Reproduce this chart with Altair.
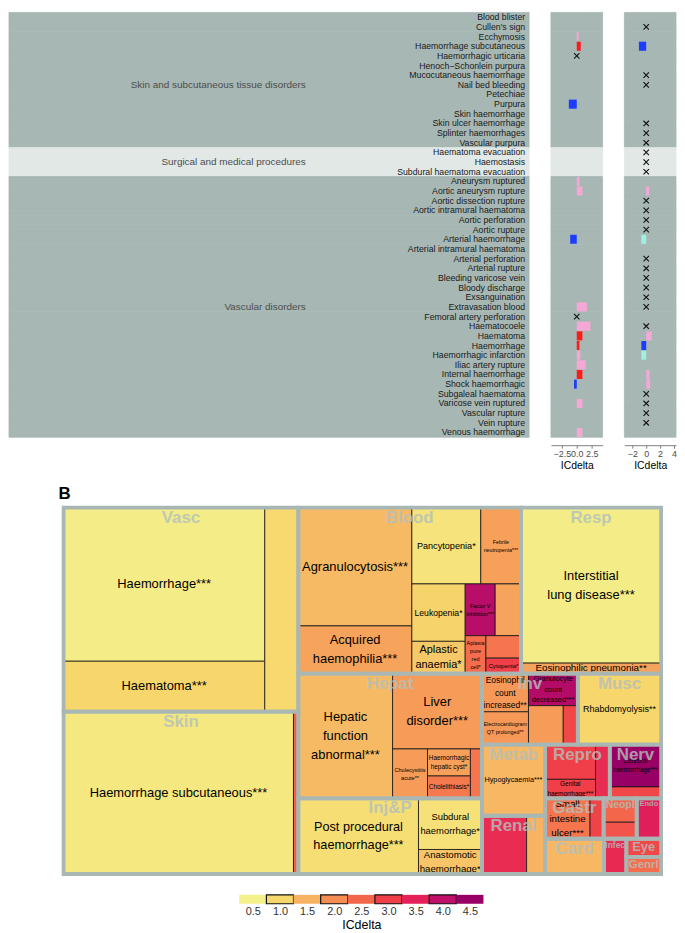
import altair as alt
import pandas as pd

FONT = "Liberation Sans"

# ===================== Panel A data =====================
soc_names = ["Skin and subcutaneous tissue disorders",
             "Surgical and medical procedures",
             "Vascular disorders"]
skin_pts = ["Blood blister", "Cullen's sign", "Ecchymosis", "Haemorrhage subcutaneous",
            "Haemorrhagic urticaria", "Henoch\u2212Schonlein purpura", "Mucocutaneous haemorrhage",
            "Nail bed bleeding", "Petechiae", "Purpura", "Skin haemorrhage",
            "Skin ulcer haemorrhage", "Splinter haemorrhages", "Vascular purpura"]
surg_pts = ["Haematoma evacuation", "Haemostasis", "Subdural haematoma evacuation"]
vasc_pts = ["Aneurysm ruptured", "Aortic aneurysm rupture", "Aortic dissection rupture",
            "Aortic intramural haematoma", "Aortic perforation", "Aortic rupture",
            "Arterial haemorrhage", "Arterial intramural haematoma", "Arterial perforation",
            "Arterial rupture", "Bleeding varicose vein", "Bloody discharge", "Exsanguination",
            "Extravasation blood", "Femoral artery perforation", "Haematocoele", "Haematoma",
            "Haemorrhage", "Haemorrhagic infarction", "Iliac artery rupture",
            "Internal haemorrhage", "Shock haemorrhagic", "Subgaleal haematoma",
            "Varicose vein ruptured", "Vascular rupture", "Vein rupture", "Venous haemorrhage"]

# left ICdelta panel
ic1_pts = ["Ecchymosis", "Haemorrhage subcutaneous", "Purpura", "Aneurysm ruptured",
           "Aortic aneurysm rupture", "Arterial haemorrhage", "Extravasation blood",
           "Haematocoele", "Haematoma", "Haemorrhage", "Haemorrhagic infarction",
           "Iliac artery rupture", "Internal haemorrhage", "Shock haemorrhagic",
           "Varicose vein ruptured", "Venous haemorrhage"]
ic1_vals = [0.33, 0.67, -1.33, 0.45, 0.95, -1.1, 1.7, 2.3, 0.95, 0.45, 0.6, 1.5, 0.95, -0.45, 0.95, 0.95]
ic1_class = ["up", "up_sig", "down_sig", "up", "up", "down_sig", "up", "up", "up_sig", "up_sig",
             "up", "up", "up_sig", "down_sig", "up", "up"]
ic1_absent = ["Haemorrhagic urticaria", "Femoral artery perforation"]

# right ICdelta panel
ic2_pts = ["Haemorrhage subcutaneous", "Aortic aneurysm rupture", "Arterial haemorrhage",
           "Haematoma", "Haemorrhage", "Haemorrhagic infarction", "Internal haemorrhage",
           "Shock haemorrhagic"]
ic2_vals = [-1.05, 0.43, -0.7, 0.8, -0.7, -0.7, 0.48, 0.57]
ic2_class = ["down_sig", "up", "down", "up", "down_sig", "down", "up", "up"]
ic2_absent = ["Cullen's sign", "Mucocutaneous haemorrhage", "Nail bed bleeding",
              "Skin ulcer haemorrhage", "Splinter haemorrhages", "Vascular purpura",
              "Haematoma evacuation", "Haemostasis", "Subdural haematoma evacuation",
              "Aortic dissection rupture", "Aortic intramural haematoma", "Aortic perforation",
              "Aortic rupture", "Arterial perforation", "Arterial rupture", "Bleeding varicose vein",
              "Bloody discharge", "Exsanguination", "Extravasation blood", "Haematocoele",
              "Subgaleal haematoma", "Varicose vein ruptured", "Vascular rupture", "Vein rupture"]

# ===================== Panel B data (treemap) =====================
cell_labels = ["Haemorrhage***", "Haematoma***", "",
               "Haemorrhage subcutaneous***", "",
               "Agranulocytosis***", "Acquired\nhaemophilia***", "Pancytopenia*",
               "Febrile\nneutropenia***", "Leukopenia*", "Aplastic\nanaemia*",
               "Factor V\ninhibition***", "", "Aplasia\npure\nred\ncell*", "", "Cytopenia*",
               "Interstitial\nlung disease***", "Eosinophilic pneumonia**",
               "Hepatic\nfunction\nabnormal***", "Liver\ndisorder***", "Cholecystitis\nacute**",
               "Haemorrhagic\nhepatic cyst*", "Cholelithiasis*", "",
               "Post procedural\nhaemorrhage***", "Subdural\nhaemorrhage*", "Anastomotic\nhaemorrhage*",
               "Eosinophil\ncount\nincreased**", "Electrocardiogram\nQT prolonged**",
               "Granulocyte\ncount\ndecreased***", "", "",
               "Rhabdomyolysis**", "Hypoglycaemia***", "", "",
               "", "Genital\nhaemorrhage***", "",
               "Cerebral\nhaemorrhage***", "",
               "Small\nintestine\nulcer***", "", "", "", "", "", "", "", ""]
cell_sizes = [1411, 464, 313,
              1705, 36,
              613, 248, 240, 140, 140, 79, 71, 61, 36, 36, 25,
              995, 68,
              537, 307, 79, 53, 44, 26,
              415, 148, 71,
              81, 70, 72, 62, 26,
              270, 205, 119, 49,
              80, 44, 35,
              99, 27,
              83, 25, 36, 25, 45, 95, 36, 29, 27]
cell_icdelta = [0.55, 1.0, 0.95,
                0.65, 2.6,
                1.4, 1.7, 0.75, 1.75, 1.05, 1.2, 4.1, 1.7, 2.4, 2.3, 3.0,
                0.55, 1.7,
                1.4, 1.8, 1.8, 1.75, 2.25, 2.3,
                0.85, 0.8, 1.25,
                1.85, 1.85, 4.15, 1.8, 2.9,
                1.0, 1.45, 3.3, 1.5,
                3.0, 3.0, 3.3,
                4.5, 2.9,
                2.3, 2.95, 2.5, 2.75, 3.55, 1.45, 3.35, 2.9, 2.4]
group_names = ["Vasc", "Skin", "Blood", "Resp", "Hepat", "Inj&P", "Inv", "Musc", "Metab",
               "Renal", "Repro", "Nerv", "Gastr", "Neopl", "Endo", "Card", "Infec", "Eye", "Genrl"]
legend_values = [0.5, 1.0, 1.5, 2.0, 2.5, 3.0, 3.5, 4.0, 4.5]

# ===================== styles =====================
cls_domain = ["band_dark", "band_light", "up", "up_sig", "down", "down_sig"]
cls_range = ["#A7B7B3", "#E1E8E6", "#F5A8D6", "#FF1A1A", "#A0F0E2", "#1E3CFF"]
heat_colors = ["#F4F08A", "#F7D66C", "#F7B362", "#F58C52", "#F4664C", "#F03F48",
               "#E42158", "#C0106A", "#990066"]
label_font_size = [13, 13, 0, 13, 0, 13, 13, 9.2, 5.4, 8.7, 11, 5.5, 0, 5.5, 0, 6.2,
                   13, 9.9, 13, 13, 5.6, 6.5, 6.5, 0, 12.8, 9.5, 9.7, 8.5, 5.4, 7.4, 0, 0,
                   9.1, 7.3, 0, 0, 0, 6.5, 0, 6.4, 0, 9.8, 0, 0, 0, 0, 0, 0, 0, 0]
group_label_size = {"Neopl": 10.5, "Endo": 7.5, "Infec": 8.5, "Eye": 13, "Genrl": 11.5}
LINE_H = 1.46
XSHAPE = "M-1,-1L1,1M-1,1L1,-1"

# ===================== Panel A chart =====================
pt_all, soc_all, shade_all = [], [], []
for i, (soc, pts) in enumerate(zip(soc_names, [skin_pts, surg_pts, vasc_pts])):
    for p in pts:
        pt_all.append(p)
        soc_all.append(soc)
        shade_all.append("band_dark" if i % 2 == 0 else "band_light")
rows = pd.DataFrame({"pt": pt_all, "soc": soc_all, "shade": shade_all})
soc_lab = pd.DataFrame({"soc": soc_names,
                        "pt": [p[len(p) // 2] for p in [skin_pts, surg_pts, vasc_pts]]})

LW, PW, H = 524, 52, 428
CLS = alt.Scale(domain=cls_domain, range=cls_range)
Y = alt.Y("pt:N", scale=alt.Scale(domain=pt_all, paddingInner=0, paddingOuter=0), axis=None)


def band_bg(w):
    return alt.Chart(rows).mark_rect(strokeWidth=0.8).encode(
        y=Y, x=alt.value(0), x2=alt.value(w),
        color=alt.Color("shade:N", scale=CLS, legend=None),
        stroke=alt.Stroke("shade:N", scale=CLS, legend=None))


label_panel = alt.layer(
    band_bg(LW),
    alt.Chart(rows).mark_text(align="right", baseline="middle", fontSize=8.8, color="#1A1A1A")
    .encode(y=Y, x=alt.value(LW - 4), text="pt:N"),
    alt.Chart(soc_lab).mark_text(align="right", baseline="middle", fontSize=10, color="#4D4D4D")
    .encode(y=Y, x=alt.value(299), text="soc:N"),
).properties(width=LW, height=H)


def ic_panel(pts, vals, cls, absent, dom, ticks, fmt):
    d = pd.DataFrame({"pt": pts, "val": vals, "cls": cls})
    a = pd.DataFrame({"pt": absent, "val": [0.0] * len(absent)})
    X = alt.X("val:Q", scale=alt.Scale(domain=dom, nice=False, zero=False),
              axis=alt.Axis(values=ticks, format=fmt, title="ICdelta", offset=8, grid=False,
                            domainColor="#7F7F7F", tickColor="#7F7F7F", tickSize=3,
                            labelColor="#4D4D4D", labelFontSize=9, labelPadding=1,
                            labelOverlap=False, labelFlush=False, labelBound=False,
                            titleFontSize=10.5, titleFontWeight="normal", titleColor="#000",
                            titlePadding=2))
    bars = alt.Chart(d).transform_calculate(base="0").mark_bar(
        height=alt.RelativeBandSize(band=0.94)).encode(
        y=Y, x=X, x2="base:Q", color=alt.Color("cls:N", scale=CLS, legend=None))
    crosses = alt.Chart(a).mark_point(shape=XSHAPE, filled=False, size=30, strokeWidth=1.1,
                                      color="#111111", opacity=1).encode(y=Y, x=X)
    return alt.layer(band_bg(PW), bars, crosses).properties(width=PW, height=H)


p1 = ic_panel(ic1_pts, ic1_vals, ic1_class, ic1_absent, [-4.33, 4.33], [-2.5, 0, 2.5], ".1f")
p2 = ic_panel(ic2_pts, ic2_vals, ic2_class, ic2_absent, [-3.14, 4.29], [-2, 0, 2, 4], "d")
top = alt.hconcat(label_panel, p1, p2, spacing=20)


# ===================== Panel B treemap layout =====================
def G(name, sub):
    return ("g", name, sub)


def Hs(*k):
    return ("h", list(k))


def Vs(*k):
    return ("v", list(k))


vasc = G("Vasc", Hs(Vs(0, 1), 2))
skin = G("Skin", Hs(3, 4))
blood = G("Blood", Hs(Vs(5, 6), Vs(Hs(7, 8), Hs(Vs(9, 10), Vs(Hs(11, 12), Hs(13, Vs(14, 15)))))))
resp = G("Resp", Vs(16, 17))
hepat = G("Hepat", Hs(18, Vs(19, Hs(20, Vs(21, 22), 23))))
injp = G("Inj&P", Hs(24, Vs(25, 26)))
inv = G("Inv", Hs(Vs(27, 28), Vs(29, Hs(30, 31))))
musc = G("Musc", 32)
metab = G("Metab", 33)
renal = G("Renal", Hs(34, 35))
repro = G("Repro", Hs(Vs(36, 37), 38))
nerv = G("Nerv", Vs(39, 40))
gastr = G("Gastr", Hs(41, 42))
neopl = G("Neopl", Vs(43, 44))
endo = G("Endo", 45)
card = G("Card", 46)
infec = G("Infec", 47)
eye = G("Eye", 48)
genrl = G("Genrl", 49)
tree_spec = Hs(Vs(vasc, skin),
               Vs(Hs(blood, resp),
                  Hs(Vs(hepat, injp),
                     Vs(Hs(inv, musc),
                        Hs(Vs(metab, renal),
                           Vs(Hs(repro, nerv),
                              Vs(Hs(gastr, neopl, endo),
                                 Hs(card, infec, Vs(eye, genrl)))))))))


def total(node):
    if isinstance(node, int):
        return cell_sizes[node]
    if node[0] == "g":
        return total(node[2])
    return sum(total(k) for k in node[1])


cell_box = {}
group_box = []


def layout(node, x0, y0, x1, y1):
    if isinstance(node, int):
        cell_box[node] = (x0, x1, y0, y1)
        return
    if node[0] == "g":
        group_box.append((node[1], x0, x1, y0, y1))
        layout(node[2], x0, y0, x1, y1)
        return
    kids = node[1]
    tot = sum(total(k) for k in kids)
    pos = x0 if node[0] == "h" else y0
    for k in kids:
        frac = total(k) / tot
        if node[0] == "h":
            w = (x1 - x0) * frac
            layout(k, pos, y0, pos + w, y1)
            pos += w
        else:
            h = (y1 - y0) * frac
            layout(k, x0, pos, x1, pos + h)
            pos += h


layout(tree_spec, 0.0, 0.0, 1.0, 1.0)

n_cells = len(cell_labels)
cells = pd.DataFrame({
    "label": cell_labels, "icd": cell_icdelta, "fs": label_font_size,
    "nl": [lab.count("\n") + 1 for lab in cell_labels],
    "x0": [cell_box[i][0] for i in range(n_cells)],
    "x1": [cell_box[i][1] for i in range(n_cells)],
    "y0": [cell_box[i][2] for i in range(n_cells)],
    "y1": [cell_box[i][3] for i in range(n_cells)],
})
groups = pd.DataFrame(group_box, columns=["name", "gx0", "gx1", "gy0", "gy1"])
groups["gfs"] = [group_label_size.get(n, 17) for n in groups["name"]]

TW, TH = 657, 369
XS = alt.Scale(domain=[0, 1], range=[55, 657], nice=False, zero=False)
YS = alt.Scale(domain=[0, 1], range=[0, TH], nice=False, zero=False)
FILL = alt.Scale(domain=legend_values, range=heat_colors, interpolate="rgb")

cell_rect = alt.Chart(cells).mark_rect(stroke="#141414", strokeWidth=0.8).encode(
    x=alt.X("x0:Q", scale=XS, axis=None), x2="x1:Q",
    y=alt.Y("y0:Q", scale=YS, axis=None), y2="y1:Q",
    fill=alt.Fill("icd:Q", scale=FILL, legend=None))

text_layers = []
combos = sorted(set((f, n) for f, n, lab in zip(label_font_size, cells["nl"], cell_labels) if f > 0 and lab))
for fs, nl in combos:
    lh = fs * LINE_H
    text_layers.append(
        alt.Chart(cells)
        .transform_filter(f"datum.fs == {fs} && datum.nl == {nl}")
        .transform_calculate(xc="(datum.x0 + datum.x1) / 2", yc="(datum.y0 + datum.y1) / 2")
        .mark_text(fontSize=fs, lineHeight=lh, lineBreak="\n", align="center",
                   baseline="middle", color="#000000", dy=-(nl - 1) * lh / 2)
        .encode(x=alt.X("xc:Q", scale=XS, axis=None), y=alt.Y("yc:Q", scale=YS, axis=None),
                text="label:N"))

grp_rect = alt.Chart(groups).mark_rect(fillOpacity=0, stroke="#A9B7B4", strokeWidth=3.8).encode(
    x=alt.X("gx0:Q", scale=XS, axis=None), x2="gx1:Q",
    y=alt.Y("gy0:Q", scale=YS, axis=None), y2="gy1:Q")

grp_text = alt.Chart(groups).transform_calculate(gxc="(datum.gx0 + datum.gx1) / 2").mark_text(
    align="center", baseline="top", fontWeight="bold", color="#B3C0BD", opacity=0.8, dy=2).encode(
    x=alt.X("gxc:Q", scale=XS, axis=None), y=alt.Y("gy0:Q", scale=YS, axis=None),
    text="name:N", size=alt.Size("gfs:Q", scale=None))

tree = alt.layer(cell_rect, *text_layers, grp_rect, grp_text).properties(
    width=TW, height=TH,
    title=alt.TitleParams("B", anchor="start", fontSize=17, fontWeight="bold", dx=50, offset=3,
                          color="#000000"))

# ===================== legend =====================
leg = pd.DataFrame({"v": legend_values})
legend = alt.Chart(leg).transform_calculate(
    a="datum.v - 0.25", b="datum.v + 0.25", sw="datum.v % 1 == 0 ? 1.2 : 0").mark_rect(
    stroke="#111111").encode(
    x=alt.X("a:Q", scale=alt.Scale(domain=[0.25, 4.75], range=[232, 478], nice=False, zero=False),
            axis=alt.Axis(values=legend_values, format=".1f", domain=False, ticks=False, grid=False,
                          labelFontSize=11, labelColor="#333333", labelPadding=2,
                          labelOverlap=False, labelFlush=False,
                          title="ICdelta", titleFontSize=12.5, titleFontWeight="normal",
                          titleColor="#000000", titlePadding=2)),
    x2="b:Q",
    fill=alt.Fill("v:Q", scale=FILL, legend=None),
    strokeWidth=alt.StrokeWidth("sw:Q", scale=None),
).properties(width=TW, height=9)

chart = alt.vconcat(alt.vconcat(top, tree, spacing=14), legend, spacing=18).properties(
    padding=0).configure(font=FONT).configure_view(stroke=None).configure_axis(labelOverlap=False)

chart.save("out.html", embed_options={"renderer": "svg", "actions": False})
